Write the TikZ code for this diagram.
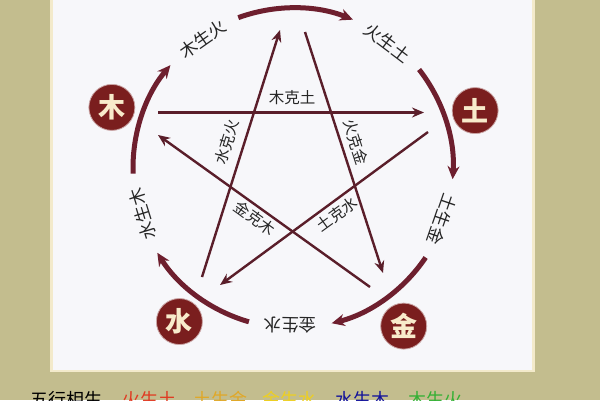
\documentclass[tikz,border=0pt]{standalone}
\usepackage{fontspec}
\newfontfamily\cjk{Noto Sans CJK SC}
\usetikzlibrary{arrows.meta,calc}
\definecolor{bgk}{HTML}{C3BD8E}
\definecolor{panel}{HTML}{F7F7FA}
\definecolor{cream}{HTML}{F3EACB}
\definecolor{arcc}{HTML}{6E1F2E}
\definecolor{starc}{HTML}{5A1E2A}
\definecolor{elemf}{HTML}{7A1E1E}
\definecolor{elemt}{HTML}{F8EBCB}
\definecolor{tred}{HTML}{E03A22}
\definecolor{torange}{HTML}{E0A828}
\definecolor{tgold}{HTML}{EDCF22}
\definecolor{tblue}{HTML}{12129A}
\definecolor{tgreen}{HTML}{34B034}
\tikzset{
  shengarc/.style={draw=arcc, line width=5bp, -{Stealth[length=13bp,width=12bp]}},
  kearrow/.style={draw=starc, line width=2.4bp, -{Stealth[length=12bp,width=10bp]}},
  outlbl/.style={font=\cjk\fontsize{17.5bp}{19bp}\selectfont, text=black!85, inner sep=1bp},
  inlbl/.style={font=\cjk\fontsize{15.5bp}{17bp}\selectfont, text=black!85, inner sep=1bp},
  elem/.style={circle, fill=elemf, draw=elemf!40, line width=0.8bp, minimum size=46bp, inner sep=0pt,
    text=elemt, font=\cjk\bfseries\fontsize{27bp}{29bp}\selectfont},
  bottomtxt/.style={anchor=base west, font=\cjk\fontsize{18bp}{20bp}\selectfont, inner sep=0pt}
}
\begin{document}
\begin{tikzpicture}[x=1bp,y=1bp]
\useasboundingbox (0,0) rectangle (600,400);
\fill[bgk] (0,0) rectangle (600,400);
\fill[cream] (50,28) rectangle (535,402);
\fill[panel] (53,30) rectangle (532,402);
\coordinate (C) at (293,232);
% sheng arcs
\foreach \c/\n in {89/a1,17/a2,-55/a3,-127/a4,-199/a5}{
  \coordinate (\n s) at ($(C)+(\c+21:160)$);
  \draw[shengarc] (\n s) arc[start angle=\c+21, end angle=\c-21, radius=160];
}
% sheng labels
\node[outlbl, rotate=35]  (l1) at ($(C)+(125:157)$) {木生火};
\node[outlbl, rotate=-37] (l2) at ($(C)+(53:157)$) {火生土};
\node[outlbl, rotate=-109] (l3) at ($(C)+(-19:158)$) {土生金};
\node[outlbl, rotate=-181] (l4) at ($(C)+(-91:157)$) {金生水};
\node[outlbl, rotate=107] (l5) at ($(C)+(-163:157)$) {水生木};
% elements
\node[elem] (mu)   at ($(C)+(161.5:191)$) {木};
\node[elem] (tu)   at ($(C)+(17.5:191)$) {土};
\node[elem] (jin)  at ($(C)+(-55:193)$) {金};
\node[elem] (shui) at ($(C)+(-126.5:191)$) {水};
% ke lines
\coordinate (k1s) at (158,287.5); \coordinate (k1e) at (424,287.5);
\coordinate (k2s) at (428,268);   \coordinate (k2e) at (220,115);
\coordinate (k3s) at (202,123);   \coordinate (k3e) at (280,370);
\coordinate (k4s) at (305,368);   \coordinate (k4e) at (383,127);
\coordinate (k5s) at (370,113);   \coordinate (k5e) at (158,265);
\draw[kearrow] (k1s) -- (k1e);
\draw[kearrow] (k2s) -- (k2e);
\draw[kearrow] (k3s) -- (k3e);
\draw[kearrow] (k4s) -- (k4e);
\draw[kearrow] (k5s) -- (k5e);
\node[inlbl] (m1) at (292,302) {木克土};
\node[inlbl, rotate=72.5] (m2) at (227,258) {水克火};
\node[inlbl, rotate=-72] (m3) at (356,258) {火克金};
\node[inlbl, rotate=-36] (m4) at (255,182) {金克木};
\node[inlbl, rotate=36] (m5) at (337,186) {土克水};
% bottom line
\node[bottomtxt, text=black] (b0) at (30,-6) {五行相生};
\node[bottomtxt, text=tred] (b1) at (122,-6) {火生土};
\node[bottomtxt, text=torange] (b2) at (193,-6) {土生金};
\node[bottomtxt, text=tgold] (b3) at (262,-6) {金生水};
\node[bottomtxt, text=tblue] (b4) at (335,-6) {水生木};
\node[bottomtxt, text=tgreen] (b5) at (408,-6) {木生火};
\end{tikzpicture}
\end{document}
